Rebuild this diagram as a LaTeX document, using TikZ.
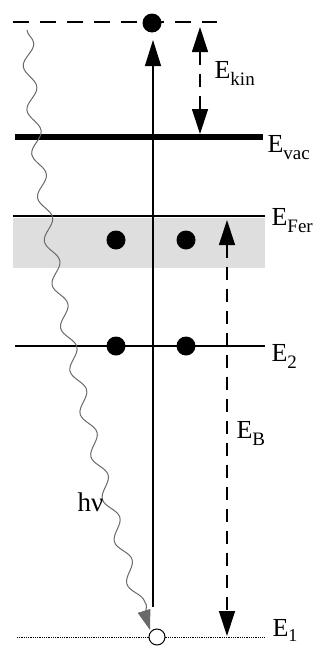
\documentclass[tikz,border=0pt]{standalone}
\usepackage{fontspec}
\setmainfont{Liberation Serif}
\usetikzlibrary{arrows.meta,decorations.pathmorphing,positioning}
\definecolor{bandgray}{RGB}{222,222,222}
\definecolor{photongray}{RGB}{105,105,105}
\newcommand{\elab}[1]{E\raisebox{-7pt}{\fontsize{19}{19}\selectfont #1}}
\newcommand{\enlevel}[5]{%
  \coordinate (#1L) at (#3,#2);
  \coordinate (#1R) at (#4,#2);
  \draw[#5] (#1L) -- (#1R);
}
\tikzset{
  lab/.style={anchor=base west,inner sep=0pt},
  edot/.style={circle,fill=black,minimum size=19pt,inner sep=0pt},
  hole/.style={circle,draw=black,fill=white,line width=1pt,minimum size=16pt,inner sep=0pt},
  bigtip/.style={-{Triangle[length=26pt,width=16pt]}},
  twotip/.style={{Triangle[length=25pt,width=16pt]}-{Triangle[length=25pt,width=16pt]}},
  gapline/.style={line width=1.2pt,dash pattern=on 13pt off 9pt},
  photon/.style={photongray,line width=1pt,decorate,
    decoration={snake,segment length=44pt,amplitude=6pt,post length=14pt},
    -{Triangle[length=20pt,width=13pt]}}
}

\begin{document}
\begin{tikzpicture}[x=1pt,y=-1pt,font=\fontsize{26}{28}\selectfont,line width=1.2pt]
    \useasboundingbox (0,0) rectangle (321,648);
    \fill[bandgray] (13,218) rectangle (265,268);
    \enlevel{top}{22}{13}{217}{dash pattern=on 16pt off 11pt}
    \enlevel{vac}{137}{15}{263}{line width=6pt}
    \enlevel{fer}{216}{13}{265}{}
    \enlevel{two}{346}{15}{265}{}
    \enlevel{one}{637}{17}{265}{line width=.8pt,densely dotted}
    \coordinate (mainB) at (153,607);
    \coordinate (mainT) at (153,40);
    \draw[bigtip] (mainB) -- (mainT);
    \coordinate (kinT) at (200,27);
    \coordinate (kinB) at (200,134);
    \draw[twotip,gapline] (kinT) -- (kinB);
    \coordinate (bindT) at (227,220);
    \coordinate (bindB) at (227,636);
    \draw[twotip,gapline] (bindT) -- (bindB);
    \node[edot] (free) at (152,23) {};
    \node[edot] (f1) at (116,240) {};
    \node[edot] (f2) at (186,240) {};
    \node[edot] (c1) at (116,346) {};
    \node[edot] (c2) at (186,346) {};
    \node[hole] (core) at (157,637) {};
    \coordinate (phS) at (27,30);
    \coordinate (phE) at (150,630);
    \draw[photon] (phS) .. controls (40,260) and (100,470) .. (phE);
    \node[lab] (kinlab) at (214,78) {\elab{kin}};
    \node[lab] (vaclab) at (267,152) {\elab{vac}};
    \node[lab] (ferlab) at (271,225) {\elab{Fer}};
    \node[lab] (twolab) at (271,361) {\elab{2}};
    \node[lab] (blab) at (236,438) {\elab{B}};
    \node[lab] (onelab) at (272,636) {E\raisebox{-5pt}{\fontsize{18}{18}\selectfont 1}};
    \node[lab] (hnu) at (77,511) {\fontsize{27}{28}\selectfont hν};
\end{tikzpicture}
\end{document}
